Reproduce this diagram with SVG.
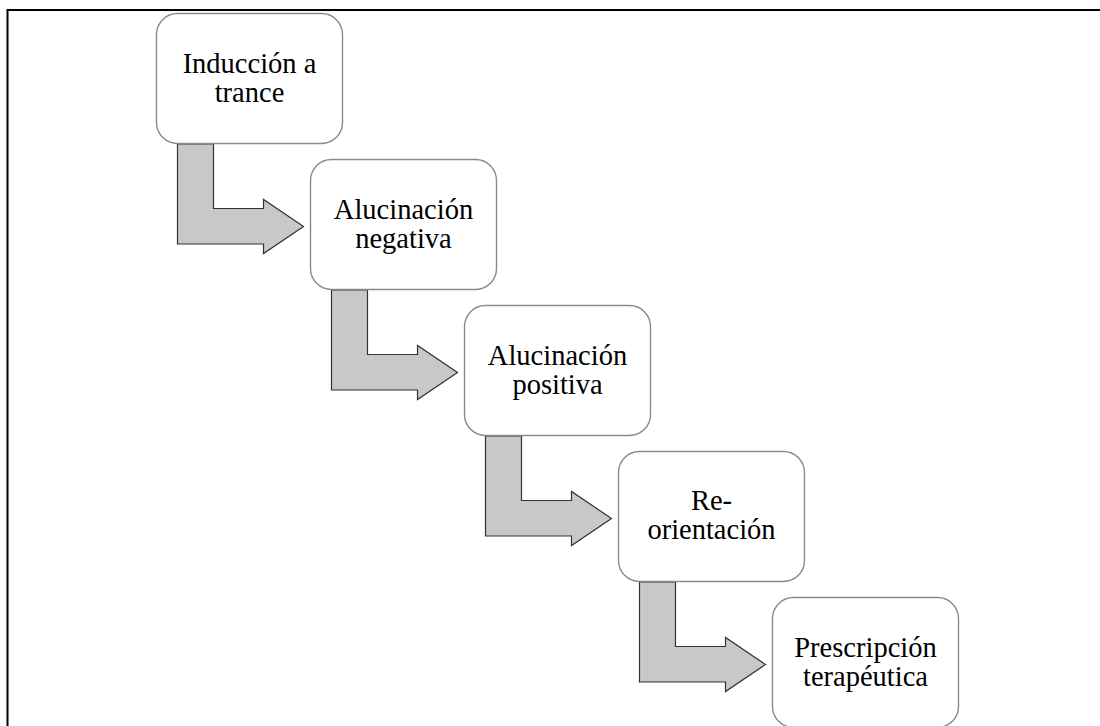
<svg xmlns="http://www.w3.org/2000/svg" width="1100" height="726" viewBox="0 0 1100 726">
  <style>
    .frame { fill: none; stroke: #000; stroke-width: 2; }
    .box { fill: #fff; stroke: #8a8a8a; stroke-width: 1.4; }
    .label { font-family: "Liberation Serif", "Times New Roman", serif; font-size: 28.5px; fill: #000; text-anchor: middle; }
    .bend { fill: #c8c8c8; stroke: #333; stroke-width: 1.2; stroke-linejoin: miter; }
  </style>
  <defs>
    <!-- bent arrow: drops from one box, turns right into the next -->
    <path id="bentArrow" d="M177.5,144 H213.5 V208.5 H263.5 V199.5 L303.5,226.5 L263.5,253.5 V244 H177.5 Z"/>
  </defs>

  <rect width="1100" height="726" fill="#fff"/>
  <!-- open frame: top and left edges -->
  <path class="frame" d="M7.5,726 V10 H1100"/>

  <g id="connectors">
    <use href="#bentArrow" class="bend"/>
    <use href="#bentArrow" class="bend" transform="translate(154,146)"/>
    <use href="#bentArrow" class="bend" transform="translate(308,292)"/>
    <use href="#bentArrow" class="bend" transform="translate(462,438)"/>
  </g>

  <g id="node1">
    <rect class="box" x="156.5" y="13.5" width="186" height="130" rx="21"/>
    <text class="label" x="249.5" y="73">Inducción a</text>
    <text class="label" x="249.5" y="102">trance</text>
  </g>
  <g id="node2">
    <rect class="box" x="310.5" y="159.5" width="186" height="130" rx="21"/>
    <text class="label" x="403.5" y="219">Alucinación</text>
    <text class="label" x="403.5" y="248">negativa</text>
  </g>
  <g id="node3">
    <rect class="box" x="464.5" y="305.5" width="186" height="130" rx="21"/>
    <text class="label" x="557.5" y="365">Alucinación</text>
    <text class="label" x="557.5" y="394">positiva</text>
  </g>
  <g id="node4">
    <rect class="box" x="618.5" y="451.5" width="186" height="130" rx="21"/>
    <text class="label" x="711.5" y="510">Re-</text>
    <text class="label" x="711.5" y="539">orientación</text>
  </g>
  <g id="node5">
    <rect class="box" x="772.5" y="597.5" width="186" height="130" rx="21"/>
    <text class="label" x="865.5" y="657">Prescripción</text>
    <text class="label" x="865.5" y="686">terapéutica</text>
  </g>
</svg>
